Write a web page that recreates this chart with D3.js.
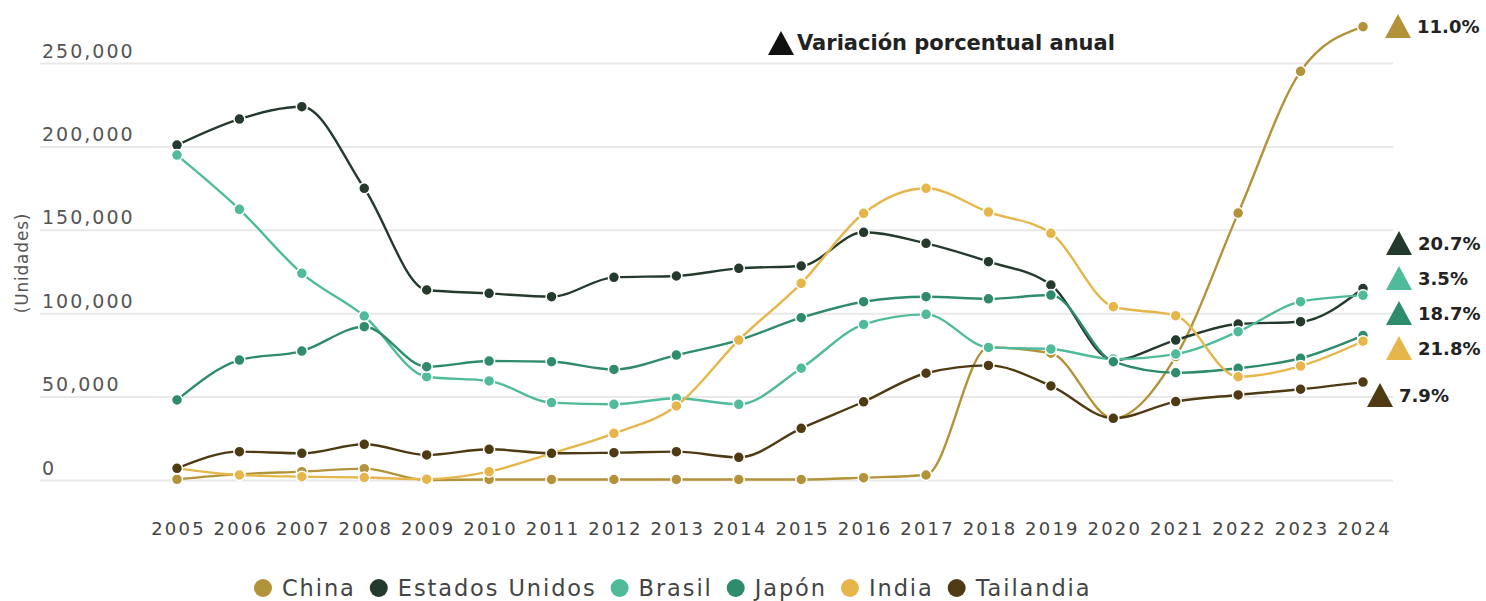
<!DOCTYPE html>
<html><head><meta charset="utf-8">
<script src="https://cdn.jsdelivr.net/npm/d3@7"></script>
<style>body{margin:0;background:#fff;} svg{display:block}</style>
</head><body><svg id="c" width="1486" height="601"></svg>
<script>
const years = [2005,2006,2007,2008,2009,2010,2011,2012,2013,2014,2015,2016,2017,2018,2019,2020,2021,2022,2023,2024];
const yTicks = [0,50000,100000,150000,200000,250000];
const china     = [400,3500,5000,6800,0,300,300,300,300,300,300,1400,3000,79500,76000,37000,74000,160000,245000,271800];
const usa       = [200800,216400,223800,174900,113900,111900,109900,121500,122300,126900,128300,148500,141900,130900,116900,71900,83900,93500,94900,114800];
const brasil    = [194800,162300,123900,98300,61900,59400,46400,45400,49000,45400,67000,93300,99300,79500,78500,72500,75500,88900,106900,110700];
const japon     = [48000,71900,77300,91900,67900,71300,70900,66300,74900,83900,97300,106900,109900,108600,110900,70900,64300,67000,73000,86600];
const india     = [7000,3000,2000,1500,500,5000,16000,28000,44400,83900,117900,159900,174900,160600,147900,103900,98500,61900,68300,83200];
const tailandia = [7000,17000,16000,21400,15000,18400,16000,16400,17000,13600,31000,46900,64000,68700,56400,37000,47000,51000,54400,58700];
const seriesNames = ["China","Estados Unidos","Brasil","Japón","India","Tailandia"];
const variation = ["11.0%","20.7%","3.5%","18.7%","21.8%","7.9%"];
const colors = ["#b39339","#243a2d","#4fbb9b","#2e8b6c","#e6b64b","#4e3b13"];

const seriesValues = [china, usa, brasil, japon, india, tailandia];
const svg = d3.select("#c");
const x = d3.scalePoint().domain(years).range([177,1363]);
const y = d3.scaleLinear().domain([0,250000]).range([480,63]);
const FONT = "'DejaVu Sans', sans-serif";

// grid + y labels
const ya = svg.append("g").attr("transform","translate(40,0)")
  .call(d3.axisRight(y).tickValues(yTicks).tickSize(1353).tickFormat(d3.format(",")));
ya.select(".domain").remove();
ya.selectAll("line").attr("stroke","#e9e9e9").attr("stroke-width",2);
ya.selectAll("text").attr("x",2).attr("dy",-6).attr("text-anchor","start")
  .attr("fill","#555").style("font-family",FONT).style("font-size","19px").style("letter-spacing","2px");

svg.append("text").attr("transform","translate(28,263) rotate(-90)").attr("text-anchor","middle")
  .attr("fill","#555").style("font-family",FONT).style("font-size","17px").style("letter-spacing","0.8px").text("(Unidades)");

// x labels
const xa = svg.append("g").attr("transform","translate(0,535)")
  .call(d3.axisBottom(x).tickSize(0).tickPadding(0));
xa.select(".domain").remove();
xa.selectAll("text").attr("y",0).attr("dy",0).attr("dx",1)
  .attr("fill","#444").style("font-family",FONT).style("font-size","18px").style("letter-spacing","2.2px");

// lines
const line = d3.line().x((d,i)=>x(years[i])).y(d=>y(d)).curve(d3.curveMonotoneX);
seriesValues.forEach((vals,k)=>{
  const g = svg.append("g");
  g.append("path").attr("d",line(vals)).attr("fill","none").attr("stroke",colors[k]).attr("stroke-width",2.4);
  g.selectAll("circle").data(vals).join("circle")
    .attr("cx",(d,i)=>x(years[i])).attr("cy",d=>y(d)).attr("r",5.5)
    .attr("fill",colors[k]).attr("stroke","#fff").attr("stroke-width",1.5);
});

// title
svg.append("path").attr("d","M768,55 L781,31 L794,55 Z").attr("fill","#111");
svg.append("text").attr("x",797).attr("y",50).attr("fill","#222")
  .style("font-family",FONT).style("font-size","21px").style("font-weight","bold").text("Variación porcentual anual");

// variation annotations (label layout)
const annY = [26,243,278,313,348,395];
const annX = [1398,1399,1399,1399,1399,1380];
variation.forEach((t,k)=>{
  const cx = annX[k], cy = annY[k];
  svg.append("path").attr("d",`M${cx-13},${cy+12} L${cx},${cy-12} L${cx+13},${cy+12} Z`).attr("fill",colors[k]);
  svg.append("text").attr("x",cx+19).attr("y",cy+7).attr("fill","#222")
    .style("font-family",FONT).style("font-size","18px").style("font-weight","bold").text(t);
});

// legend
const lg = svg.append("g");
let cur = 0;
seriesNames.forEach((n,k)=>{
  const it = lg.append("g").attr("transform",`translate(${cur},0)`);
  it.append("circle").attr("cx",9).attr("cy",0).attr("r",9).attr("fill",colors[k]);
  const t = it.append("text").attr("x",28).attr("y",8).attr("fill","#444")
    .style("font-family",FONT).style("font-size","22.5px").style("letter-spacing","1.9px").text(n);
  cur += 28 + t.node().getComputedTextLength() + 14;
});
lg.attr("transform",`translate(254,588)`);
</script></body></html>
